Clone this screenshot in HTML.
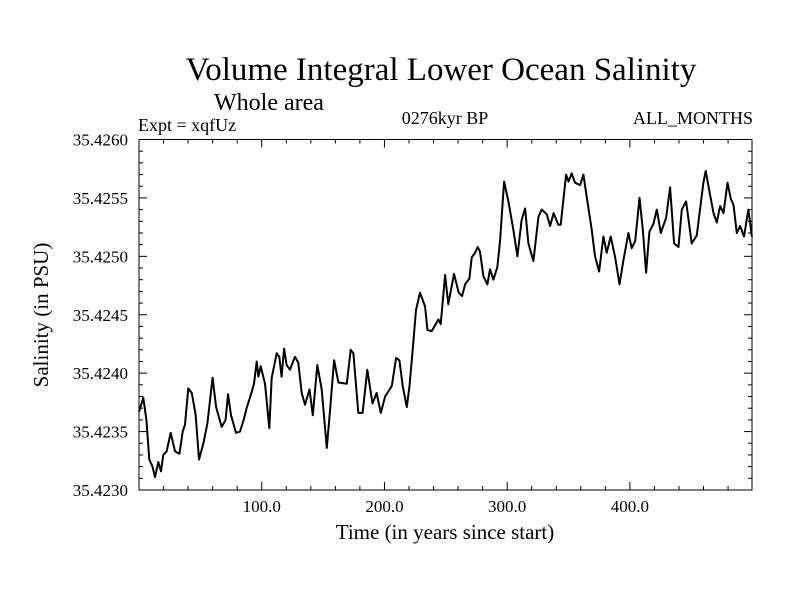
<!DOCTYPE html>
<html><head><meta charset="utf-8"><style>
body{margin:0;background:#fff;}
svg{display:block;font-family:"Liberation Serif",serif;}
</style></head><body>
<svg id="chart" width="800" height="600" viewBox="0 0 800 600">
<rect width="800" height="600" fill="#fff"/>
<text x="441" y="80" font-size="33" text-anchor="middle">Volume Integral Lower Ocean Salinity</text>
<text x="269" y="110" font-size="24" text-anchor="middle">Whole area</text>
<text x="138" y="131" font-size="18">Expt = xqfUz</text>
<text x="445" y="124" font-size="18" text-anchor="middle">0276kyr BP</text>
<text x="753" y="124" font-size="18" text-anchor="end">ALL_MONTHS</text>
<text transform="translate(48,315) rotate(-90)" font-size="21" text-anchor="middle">Salinity (in PSU)</text>
<text x="445" y="539" font-size="21" text-anchor="middle">Time (in years since start)</text>
<g id="axes"></g>
<path id="line" fill="none" stroke="#000" stroke-width="2" stroke-linejoin="round"/>
<rect x="139" y="139.5" width="613" height="350.5" fill="none" stroke="#000" stroke-width="1"/>
</svg>
<script>
const years=[0,3.5,6,8.4,11,13,15.7,17.9,19.8,22.5,25.8,29.3,32.9,35.6,37.5,40.2,43,46.2,48.9,52.5,55.7,60,62.8,67.4,70.6,72.5,75,79,82.3,85,87.7,91.8,93.7,95.9,97.3,99.2,102.7,106.2,108.1,112.2,114.3,116.2,118.2,120.3,123,127.1,129.8,132.6,135.3,138.9,141.6,145.3,148.9,153,155.7,159,162.5,169.3,172.5,174.7,178.7,182.2,186,190.3,193.6,197,200.5,206,209.5,212.2,214.9,218.2,220.4,223,225.7,229,233.1,235,238.5,244,245.8,249.4,252,256.7,260.5,263.3,265.7,269.2,271.1,273.8,276,277.9,280.6,283.9,286,288.8,292,294.2,297.5,301,305,308.3,311.8,314.6,317.3,321.4,325.5,328.2,332.3,335,337.8,341.7,343.6,348,350,352.6,355.3,359.4,362.1,364.8,368.9,371.6,374.9,378.4,381.1,384.4,388,391.5,394.8,398.8,401.5,404.3,407.8,410.5,413.2,415.9,419.2,421.9,425.2,429.5,432.8,436,439.6,442.3,445.8,450.4,454.5,459.9,461.8,465.4,468.1,470.8,473.5,476.3,479.5,482.3,484.4,487.1,489.8,493,496.6,499.4];
const salinityOffset=[6.7,7.9,6.0,2.6,2.0,1.1,2.4,1.6,3.0,3.3,4.9,3.3,3.1,5.0,5.6,8.7,8.3,6.4,2.6,4.0,5.7,9.6,7.1,5.4,6.0,8.2,6.4,4.9,5.0,5.9,7.0,8.4,9.1,11.0,9.7,10.6,9.1,5.3,9.6,11.7,11.4,9.7,12.1,10.7,10.3,11.4,10.9,8.3,7.3,8.6,6.4,10.7,8.6,3.6,6.9,11.1,9.2,9.1,12.0,11.7,6.6,6.6,10.3,7.4,8.3,6.6,8.0,8.9,11.3,11.1,8.9,7.1,8.9,12.0,15.4,16.9,15.7,13.7,13.6,14.6,14.2,18.4,15.9,18.5,16.9,16.6,17.6,18.1,19.9,20.3,20.8,20.4,18.3,17.6,18.9,18.0,19.1,21.4,26.4,24.7,22.3,20.0,23.1,24.1,21.1,19.6,23.4,24.0,23.6,22.6,23.7,22.7,22.7,27.0,26.4,27.1,26.3,26.1,27.0,25.1,22.3,20.0,18.7,21.7,20.3,21.7,19.9,17.6,19.7,22.0,20.7,21.3,25.0,22.3,18.6,22.1,22.8,24.0,22.0,23.3,25.9,21.1,20.8,24.0,24.7,21.1,21.8,26.3,27.3,25.2,23.7,22.9,24.3,23.7,26.3,24.9,24.4,22.0,22.6,21.7,24.0,21.7];
const yTickValues=[35.4230,35.4235,35.4240,35.4245,35.4250,35.4255,35.4260];
const yTickLabels=["35.4230","35.4235","35.4240","35.4245","35.4250","35.4255","35.4260"];
const xTickValues=[100,200,300,400];
const xTickLabels=["100.0","200.0","300.0","400.0"];
const X0=139,X1=752,Y0=490,Y1=139.5,XMIN=0,XMAX=499.5,YMIN=35.4230,YMAX=35.4260;
function sx(v){return X0+(v-XMIN)/(XMAX-XMIN)*(X1-X0);}
function sy(v){return Y0-(v-YMIN)/(YMAX-YMIN)*(Y0-Y1);}
const NS="http://www.w3.org/2000/svg";
const g=document.getElementById('axes');
function ln(x1,y1,x2,y2,name){const l=document.createElementNS(NS,'line');l.setAttribute('x1',x1);l.setAttribute('y1',y1);l.setAttribute('x2',x2);l.setAttribute('y2',y2);l.setAttribute('stroke','#000');l.setAttribute('stroke-width','1');


g.appendChild(l);}
function tx(x,y,s,anchor,name){const t=document.createElementNS(NS,'text');t.setAttribute('x',x);t.setAttribute('y',y);t.setAttribute('font-size','17');t.setAttribute('text-anchor',anchor);t.textContent=s;


g.appendChild(t);}
for(let k=0;k<=30;k++){const v=YMIN+k*0.0001;const y=sy(v);const major=k%5===0;const L=major?8:4;
ln(X0,y,X0+L,y,'y-tick');ln(X1,y,X1-L,y,'y-tick-right');}
yTickValues.forEach((v,i)=>tx(128,sy(v)+6,yTickLabels[i],'end','y-tick-label'));
for(let yr=20;yr<XMAX;yr+=20){const x=sx(yr);const major=yr%100===0;const L=major?8:4;
ln(x,Y0,x,Y0-L,'x-tick');ln(x,Y1,x,Y1+L,'x-tick-top');}
xTickValues.forEach((v,i)=>tx(sx(v),512,xTickLabels[i],'middle','x-tick-label'));
let d='';years.forEach((yr,i)=>{const v=YMIN+salinityOffset[i]*0.0001;d+=(i?'L':'M')+sx(yr).toFixed(1)+' '+sy(v).toFixed(1);});
document.getElementById('line').setAttribute('d',d);
</script>
</body></html>
